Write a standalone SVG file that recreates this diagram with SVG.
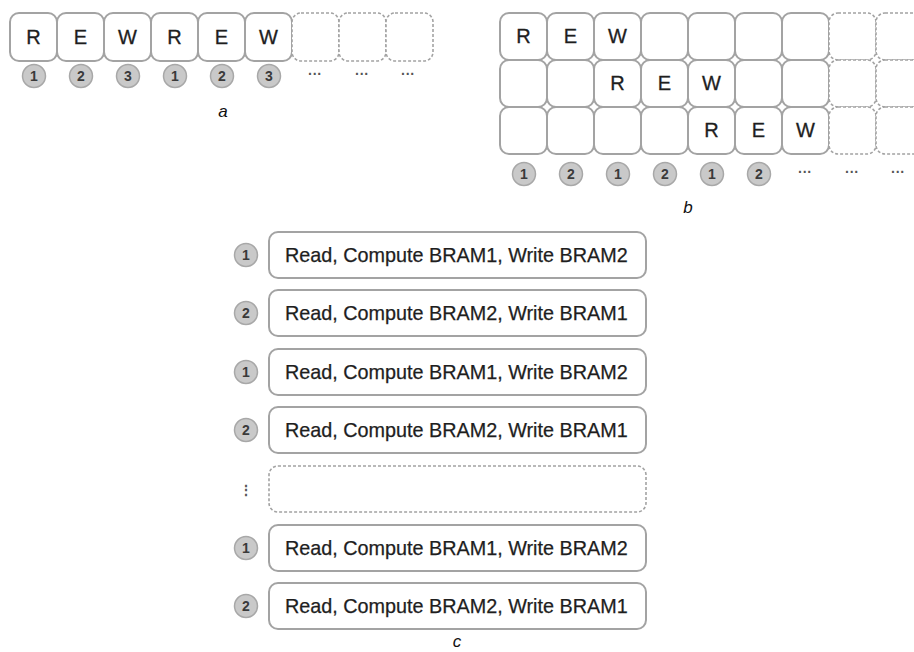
<svg xmlns="http://www.w3.org/2000/svg" width="914" height="652" viewBox="0 0 914 652">
<style>
.cell{fill:#fff;stroke:#a3a3a3;stroke-width:2}
.dash{fill:#fff;stroke:#a3a3a3;stroke-width:1.6;stroke-dasharray:3 2}
.lt{font-family:"Liberation Sans",Arial,sans-serif;font-size:20px;fill:#1e1e1e;stroke:#1e1e1e;stroke-width:0.3;text-anchor:middle}
.num{fill:#c9c9c9;stroke:#a8a8a8;stroke-width:1.5}
.nt{font-family:"Liberation Sans",Arial,sans-serif;font-size:14px;font-weight:bold;fill:#3a3a3a;text-anchor:middle}
.dots{font-family:"Liberation Sans",Arial,sans-serif;font-size:14px;font-weight:bold;fill:#555;text-anchor:middle}
.cap{font-family:"Liberation Sans",Arial,sans-serif;font-size:17px;font-style:italic;fill:#111;text-anchor:middle}
.bt{font-family:"Liberation Sans",Arial,sans-serif;font-size:19.8px;fill:#1e1e1e;stroke:#1e1e1e;stroke-width:0.25}
.box{fill:#fff;stroke:#a3a3a3;stroke-width:2}
</style>
<rect width="914" height="652" fill="#fff"/>
<!-- Panel a -->
<g id="panel-a">
  <g id="a-cells">
    <rect class="cell" x="10" y="13" width="47" height="48" rx="9"/>
    <rect class="cell" x="57" y="13" width="47" height="48" rx="9"/>
    <rect class="cell" x="104" y="13" width="47" height="48" rx="9"/>
    <rect class="cell" x="151" y="13" width="47" height="48" rx="9"/>
    <rect class="cell" x="198" y="13" width="47" height="48" rx="9"/>
    <rect class="cell" x="245" y="13" width="47" height="48" rx="9"/>
    <rect class="dash" x="292" y="13" width="47" height="48" rx="9"/>
    <rect class="dash" x="339" y="13" width="47" height="48" rx="9"/>
    <rect class="dash" x="386" y="13" width="47" height="48" rx="9"/>
  </g>
  <g id="a-letters">
    <text class="lt" x="33.5" y="44">R</text>
    <text class="lt" x="80.5" y="44">E</text>
    <text class="lt" x="127.5" y="44">W</text>
    <text class="lt" x="174.5" y="44">R</text>
    <text class="lt" x="221.5" y="44">E</text>
    <text class="lt" x="268.5" y="44">W</text>
  </g>
  <g id="a-nums">
    <circle class="num" cx="34" cy="76" r="11.5"/><text class="nt" x="34" y="81">1</text>
    <circle class="num" cx="81" cy="76" r="11.5"/><text class="nt" x="81" y="81">2</text>
    <circle class="num" cx="128" cy="76" r="11.5"/><text class="nt" x="128" y="81">3</text>
    <circle class="num" cx="175" cy="76" r="11.5"/><text class="nt" x="175" y="81">1</text>
    <circle class="num" cx="222" cy="76" r="11.5"/><text class="nt" x="222" y="81">2</text>
    <circle class="num" cx="269" cy="76" r="11.5"/><text class="nt" x="269" y="81">3</text>
    <text class="dots" x="315" y="79">···</text>
    <text class="dots" x="362" y="79">···</text>
    <text class="dots" x="408" y="79">···</text>
  </g>
  <text class="cap" x="223" y="117">a</text>
</g>
<!-- Panel b -->
<g id="panel-b">
  <g id="b-row1">
    <rect class="cell" x="500" y="13" width="47" height="47" rx="9"/>
    <rect class="cell" x="547" y="13" width="47" height="47" rx="9"/>
    <rect class="cell" x="594" y="13" width="47" height="47" rx="9"/>
    <rect class="cell" x="641" y="13" width="47" height="47" rx="9"/>
    <rect class="cell" x="688" y="13" width="47" height="47" rx="9"/>
    <rect class="cell" x="735" y="13" width="47" height="47" rx="9"/>
    <rect class="cell" x="782" y="13" width="47" height="47" rx="9"/>
    <rect class="dash" x="829" y="13" width="47" height="47" rx="9"/>
    <rect class="dash" x="876" y="13" width="47" height="47" rx="9"/>
  </g>
  <g id="b-row2">
    <rect class="cell" x="500" y="60" width="47" height="47" rx="9"/>
    <rect class="cell" x="547" y="60" width="47" height="47" rx="9"/>
    <rect class="cell" x="594" y="60" width="47" height="47" rx="9"/>
    <rect class="cell" x="641" y="60" width="47" height="47" rx="9"/>
    <rect class="cell" x="688" y="60" width="47" height="47" rx="9"/>
    <rect class="cell" x="735" y="60" width="47" height="47" rx="9"/>
    <rect class="cell" x="782" y="60" width="47" height="47" rx="9"/>
    <rect class="dash" x="829" y="60" width="47" height="47" rx="9"/>
    <rect class="dash" x="876" y="60" width="47" height="47" rx="9"/>
  </g>
  <g id="b-row3">
    <rect class="cell" x="500" y="107" width="47" height="47" rx="9"/>
    <rect class="cell" x="547" y="107" width="47" height="47" rx="9"/>
    <rect class="cell" x="594" y="107" width="47" height="47" rx="9"/>
    <rect class="cell" x="641" y="107" width="47" height="47" rx="9"/>
    <rect class="cell" x="688" y="107" width="47" height="47" rx="9"/>
    <rect class="cell" x="735" y="107" width="47" height="47" rx="9"/>
    <rect class="cell" x="782" y="107" width="47" height="47" rx="9"/>
    <rect class="dash" x="829" y="107" width="47" height="47" rx="9"/>
    <rect class="dash" x="876" y="107" width="47" height="47" rx="9"/>
  </g>
  <g id="b-letters">
    <text class="lt" x="523.5" y="43">R</text>
    <text class="lt" x="570.5" y="43">E</text>
    <text class="lt" x="617.5" y="43">W</text>
    <text class="lt" x="617.5" y="90">R</text>
    <text class="lt" x="664.5" y="90">E</text>
    <text class="lt" x="711.5" y="90">W</text>
    <text class="lt" x="711.5" y="137">R</text>
    <text class="lt" x="758.5" y="137">E</text>
    <text class="lt" x="805.5" y="137">W</text>
  </g>
  <g id="b-nums">
    <circle class="num" cx="524" cy="174" r="11.5"/><text class="nt" x="524" y="179">1</text>
    <circle class="num" cx="571" cy="174" r="11.5"/><text class="nt" x="571" y="179">2</text>
    <circle class="num" cx="618" cy="174" r="11.5"/><text class="nt" x="618" y="179">1</text>
    <circle class="num" cx="665" cy="174" r="11.5"/><text class="nt" x="665" y="179">2</text>
    <circle class="num" cx="712" cy="174" r="11.5"/><text class="nt" x="712" y="179">1</text>
    <circle class="num" cx="759" cy="174" r="11.5"/><text class="nt" x="759" y="179">2</text>
    <text class="dots" x="805" y="177">···</text>
    <text class="dots" x="852" y="177">···</text>
    <text class="dots" x="898" y="177">···</text>
  </g>
  <text class="cap" x="688" y="213">b</text>
</g>
<!-- Panel c -->
<g id="panel-c">
  <g id="c1">
    <circle class="num" cx="246" cy="255" r="11.5"/><text class="nt" x="246" y="260">1</text>
    <rect class="box" x="269" y="232" width="377" height="46" rx="9"/>
    <text class="bt" x="285" y="262">Read, Compute BRAM1, Write BRAM2</text>
  </g>
  <g id="c2">
    <circle class="num" cx="246" cy="313" r="11.5"/><text class="nt" x="246" y="318">2</text>
    <rect class="box" x="269" y="290" width="377" height="46" rx="9"/>
    <text class="bt" x="285" y="320">Read, Compute BRAM2, Write BRAM1</text>
  </g>
  <g id="c3">
    <circle class="num" cx="246" cy="372" r="11.5"/><text class="nt" x="246" y="377">1</text>
    <rect class="box" x="269" y="349" width="377" height="46" rx="9"/>
    <text class="bt" x="285" y="379">Read, Compute BRAM1, Write BRAM2</text>
  </g>
  <g id="c4">
    <circle class="num" cx="246" cy="430" r="11.5"/><text class="nt" x="246" y="435">2</text>
    <rect class="box" x="269" y="407" width="377" height="46" rx="9"/>
    <text class="bt" x="285" y="437">Read, Compute BRAM2, Write BRAM1</text>
  </g>
  <g id="c5">
    <text class="dots" x="246" y="495" font-size="16">⋮</text>
    <rect class="dash" x="269" y="466" width="377" height="46" rx="9"/>
  </g>
  <g id="c6">
    <circle class="num" cx="246" cy="548" r="11.5"/><text class="nt" x="246" y="553">1</text>
    <rect class="box" x="269" y="525" width="377" height="46" rx="9"/>
    <text class="bt" x="285" y="555">Read, Compute BRAM1, Write BRAM2</text>
  </g>
  <g id="c7">
    <circle class="num" cx="246" cy="606" r="11.5"/><text class="nt" x="246" y="611">2</text>
    <rect class="box" x="269" y="583" width="377" height="46" rx="9"/>
    <text class="bt" x="285" y="613">Read, Compute BRAM2, Write BRAM1</text>
  </g>
  <text class="cap" x="457" y="647">c</text>
</g>
</svg>
